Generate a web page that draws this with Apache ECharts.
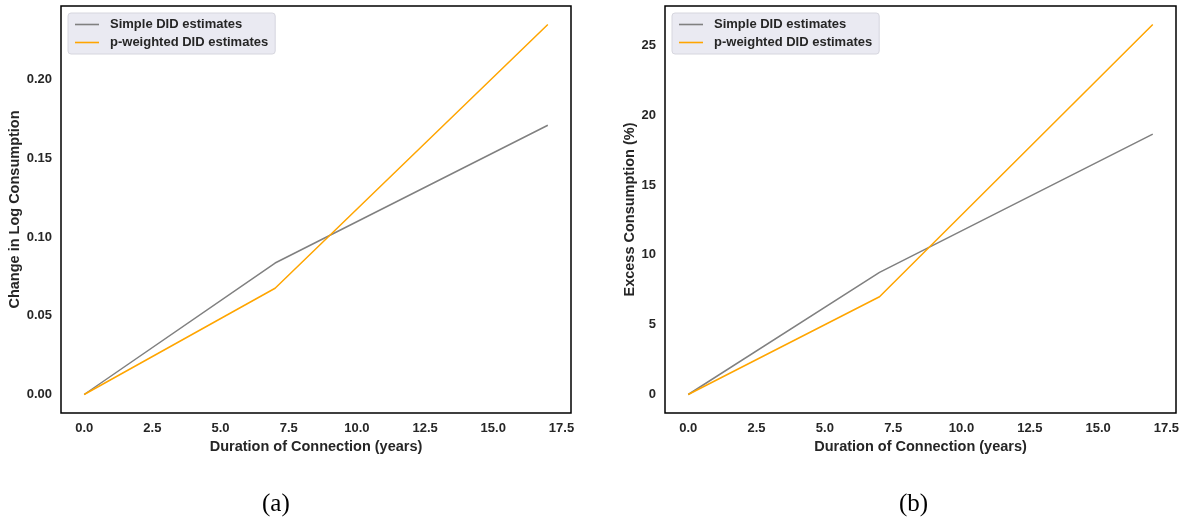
<!DOCTYPE html>
<html>
<head>
<meta charset="utf-8">
<script src="https://cdn.jsdelivr.net/npm/echarts@6/dist/echarts.min.js"></script>
<style>
  html, body { margin: 0; padding: 0; background: #fff; }
  #chart { width: 1185px; height: 521px; }
</style>
</head>
<body>
<div id="chart"></div>
<script>
// data
var years = [0, 7, 17];
var simpleLog = [0, 0.0835, 0.171];
var weightedLog = [0, 0.0675, 0.235];
var simplePct = [0, 8.75, 18.65];
var weightedPct = [0, 7.0, 26.5];

var xTicks = [0, 2.5, 5, 7.5, 10, 12.5, 15, 17.5];
var yTicksLog = [0, 0.05, 0.10, 0.15, 0.20];
var yTicksPct = [0, 5, 10, 15, 20, 25];

var names = ['Simple DID estimates', 'p-weighted DID estimates'];
var colors = ['#808080', '#ffa500'];

function pairs(xs, ys) {
  var out = [];
  for (var i = 0; i < xs.length; i++) out.push([xs[i], ys[i]]);
  return out;
}

var labelStyle = {
  fontFamily: 'Liberation Sans',
  fontWeight: 'bold',
  fontSize: 13,
  color: '#262626'
};
var titleStyle = {
  fontFamily: 'Liberation Sans',
  fontWeight: 'bold',
  fontSize: 14.5,
  color: '#262626'
};

function xAxis(idx) {
  return {
    type: 'value',
    gridIndex: idx,
    min: -0.85,
    max: 17.85,
    name: 'Duration of Connection (years)',
    nameLocation: 'middle',
    nameGap: 25,
    nameTextStyle: titleStyle,
    axisLine: { show: false },
    axisTick: { show: false },
    splitLine: { show: false },
    axisLabel: Object.assign({
      customValues: xTicks,
      margin: 9,
      formatter: function (v) { return v.toFixed(1); }
    }, labelStyle)
  };
}

function yAxis(idx, min, max, ticks, digits, title, gap) {
  return {
    type: 'value',
    gridIndex: idx,
    min: min,
    max: max,
    name: title,
    nameLocation: 'middle',
    nameGap: gap,
    nameTextStyle: titleStyle,
    axisLine: { show: false },
    axisTick: { show: false },
    splitLine: { show: false },
    axisLabel: Object.assign({
      customValues: ticks,
      margin: 9,
      formatter: function (v) { return v.toFixed(digits); }
    }, labelStyle)
  };
}

function legend(left) {
  return {
    left: left,
    top: 13,
    orient: 'vertical',
    data: names,
    icon: 'path://M0,0 L24,0 L24,1.6 L0,1.6 Z',
    itemWidth: 24,
    itemHeight: 2,
    itemGap: 5,
    padding: [5, 7, 5, 7],
    backgroundColor: '#eaeaf2',
    borderColor: '#d6d6de',
    borderWidth: 1,
    borderRadius: 3,
    textStyle: {
      fontFamily: 'Liberation Sans',
      fontWeight: 'bold',
      fontSize: 13,
      color: '#262626',
      padding: [0, 0, 0, 6]
    }
  };
}

function line(name, color, xi, data) {
  return {
    name: name,
    type: 'line',
    xAxisIndex: xi,
    yAxisIndex: xi,
    data: data,
    showSymbol: false,
    symbol: 'none',
    color: color,
    lineStyle: { color: color, width: 1.5 },
    animation: false
  };
}

var myChart = echarts.init(document.getElementById('chart'));
var option = {
  backgroundColor: '#fff',
  animation: false,
  grid: [
    { left: 61, top: 6, width: 510, height: 407, show: true, borderColor: '#000', borderWidth: 1.5, backgroundColor: 'transparent' },
    { left: 665, top: 6, width: 511, height: 407, show: true, borderColor: '#000', borderWidth: 1.5, backgroundColor: 'transparent' }
  ],
  legend: [legend(68), legend(672)],
  xAxis: [xAxis(0), xAxis(1)],
  yAxis: [
    yAxis(0, -0.01175, 0.24675, yTicksLog, 2, 'Change in Log Consumption', 33),
    yAxis(1, -1.325, 27.825, yTicksPct, 0, 'Excess Consumption (%)', 23)
  ],
  graphic: [
    { type: 'text', left: 262, top: 492, style: { text: '(a)', font: '25px "Liberation Serif"', fill: '#000' } },
    { type: 'text', left: 899, top: 492, style: { text: '(b)', font: '25px "Liberation Serif"', fill: '#000' } }
  ],
  series: [
    line(names[0], colors[0], 0, pairs(years, simpleLog)),
    line(names[1], colors[1], 0, pairs(years, weightedLog)),
    line(names[0], colors[0], 1, pairs(years, simplePct)),
    line(names[1], colors[1], 1, pairs(years, weightedPct))
  ]
};
myChart.setOption(option);
</script>
</body>
</html>
